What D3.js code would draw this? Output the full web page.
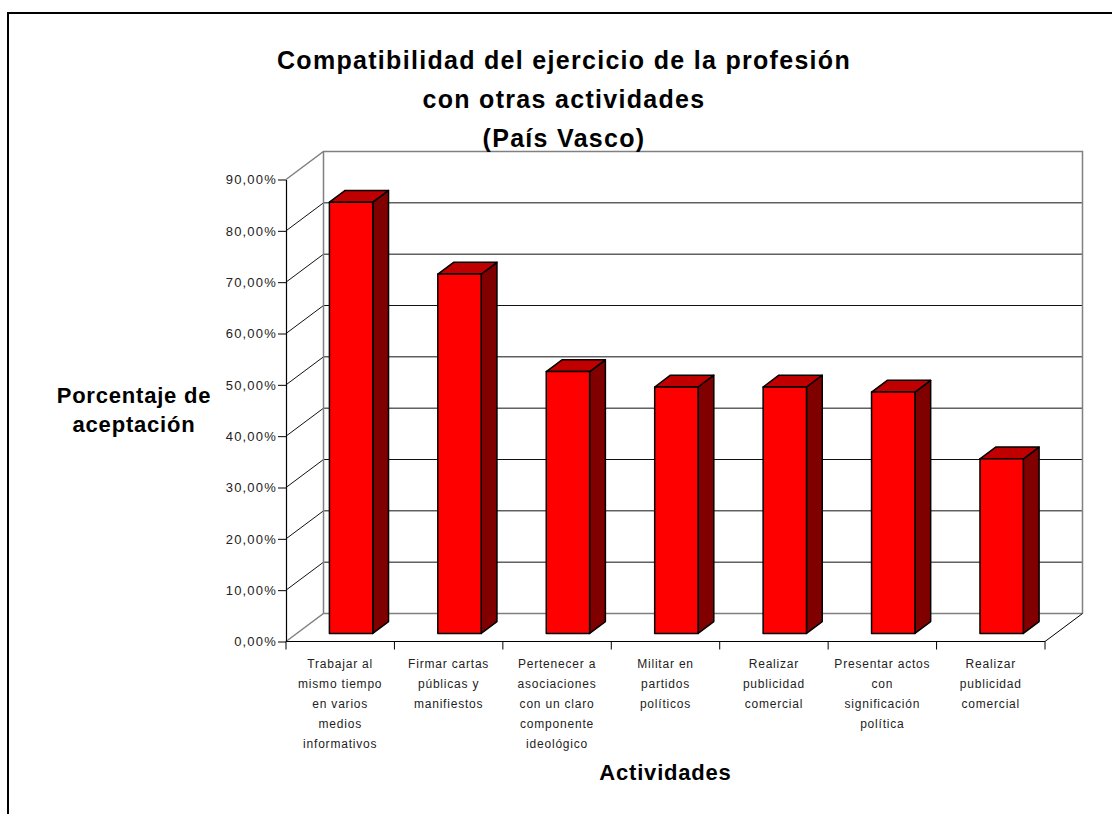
<!DOCTYPE html>
<html>
<head>
<meta charset="utf-8">
<script src="https://cdn.jsdelivr.net/npm/d3@7"></script>
<style>
  body { margin: 0; background: #fff; }
  svg { display: block; font-family: Arial, "Liberation Sans", sans-serif; }
</style>
</head>
<body>
<svg width="1112" height="814"></svg>
<script>
const titleLines = ["Compatibilidad del ejercicio de la profesión", "con otras actividades", "(País Vasco)"];
const yTitleLines = ["Porcentaje de", "aceptación"];
const xTitle = "Actividades";

const categoryLines = [
  ["Trabajar al", "mismo tiempo", "en varios", "medios", "informativos"],
  ["Firmar cartas", "públicas y", "manifiestos"],
  ["Pertenecer a", "asociaciones", "con un claro", "componente", "ideológico"],
  ["Militar en", "partidos", "políticos"],
  ["Realizar", "publicidad", "comercial"],
  ["Presentar actos", "con", "significación", "política"],
  ["Realizar", "publicidad", "comercial"]
];
const values = [0.84, 0.70, 0.51, 0.48, 0.48, 0.47, 0.34];
const yTicks = [0, 0.1, 0.2, 0.3, 0.4, 0.5, 0.6, 0.7, 0.8, 0.9];

const svg = d3.select("svg");
const width = +svg.attr("width");
const height = +svg.attr("height");

// plot box (front plane) and 3d depth offset
const plot = { left: 286, right: 1045, top: 179.5, bottom: 641.5 };
const DX = 37.5, DY = 28;
const barFront = 0.29, barBack = 0.71;

const es = d3.formatLocale({ decimal: ",", thousands: ".", grouping: [3], currency: ["", " €"] });
const pct = es.format(".2%");

const x = d3.scaleBand()
  .domain(d3.range(values.length))
  .range([plot.left, plot.right]);

const y = d3.scaleLinear()
  .domain([0, 0.9])
  .range([plot.bottom, plot.top]);

// project a front-plane point back by depth d (0..1)
const P = (px, py, d) => [px + d * DX, py - d * DY];
const line = d3.line();

// outer chart border
svg.append("rect")
  .attr("x", 8).attr("y", 13)
  .attr("width", width + 20).attr("height", height + 20)
  .attr("fill", "none")
  .attr("stroke", "#000")
  .attr("stroke-width", 2);

// walls
const walls = svg.append("g");
const top90 = y(0.9), base0 = y(0);

// gridlines: side wall diagonals + back wall horizontals
yTicks.slice(1, -1).forEach(t => {
  walls.append("path")
    .attr("d", line([P(plot.left, y(t), 0), P(plot.left, y(t), 1), P(plot.right, y(t), 1)]))
    .attr("fill", "none")
    .attr("stroke", "#111")
    .attr("stroke-width", 1);
});

// back wall + side wall outline (grey)
walls.append("path")
  .attr("d", line([P(plot.left, top90, 0), P(plot.left, top90, 1), P(plot.right, top90, 1), P(plot.right, base0, 1)]))
  .attr("fill", "none").attr("stroke", "#808080").attr("stroke-width", 1.5);
walls.append("path")
  .attr("d", line([P(plot.left, top90, 1), P(plot.left, base0, 1)]))
  .attr("fill", "none").attr("stroke", "#808080").attr("stroke-width", 1.5);
walls.append("path")
  .attr("d", line([P(plot.left, base0, 0), P(plot.left, base0, 1), P(plot.right, base0, 1)]))
  .attr("fill", "none").attr("stroke", "#808080").attr("stroke-width", 1.5);
// floor right edge
walls.append("path")
  .attr("d", line([P(plot.right, base0, 0), P(plot.right, base0, 1)]))
  .attr("fill", "none").attr("stroke", "#000").attr("stroke-width", 1);

// bars
const bars = svg.append("g")
  .attr("stroke", "#000")
  .attr("stroke-width", 1.5)
  .attr("stroke-linejoin", "round");

values.forEach((v, i) => {
  const x0 = x(i) + x.bandwidth() * 0.3;
  const x1 = x(i) + x.bandwidth() * 0.7;
  const yt = y(v), yb = y(0);

  // side face
  bars.append("path")
    .attr("d", line([P(x1, yt, barFront), P(x1, yt, barBack), P(x1, yb, barBack), P(x1, yb, barFront)]) + "Z")
    .attr("fill", "#800000");
  // top face
  bars.append("path")
    .attr("d", line([P(x0, yt, barFront), P(x1, yt, barFront), P(x1, yt, barBack), P(x0, yt, barBack)]) + "Z")
    .attr("fill", "#c00000");
  // front face
  bars.append("path")
    .attr("d", line([P(x0, yt, barFront), P(x1, yt, barFront), P(x1, yb, barFront), P(x0, yb, barFront)]) + "Z")
    .attr("fill", "#ff0000");
});

// y axis
const yAxis = svg.append("g")
  .attr("transform", `translate(${plot.left},0)`)
  .call(d3.axisLeft(y).tickValues(yTicks).tickFormat(pct).tickSize(8).tickSizeOuter(0));
yAxis.select(".domain").attr("stroke", "#000").attr("stroke-width", 1.2);
yAxis.selectAll(".tick line").attr("stroke", "#000");
yAxis.selectAll(".tick text")
  .attr("x", -9)
  .attr("fill", "#222")
  .style("font-family", "Arial, 'Liberation Sans', sans-serif")
  .style("font-size", "13px")
  .style("letter-spacing", "1.2px");

// x axis
const xAxis = svg.append("g");
xAxis.append("line")
  .attr("x1", plot.left).attr("x2", plot.right)
  .attr("y1", base0).attr("y2", base0)
  .attr("stroke", "#000").attr("stroke-width", 1.2);
xAxis.selectAll(".xtick")
  .data(d3.range(values.length + 1))
  .enter().append("line")
  .attr("x1", i => plot.left + i * x.step())
  .attr("x2", i => plot.left + i * x.step())
  .attr("y1", base0).attr("y2", base0 + 8)
  .attr("stroke", "#000");

const catText = xAxis.selectAll(".cat")
  .data(categoryLines)
  .enter().append("text")
  .attr("text-anchor", "middle")
  .attr("fill", "#222")
  .style("font-size", "12px")
  .style("letter-spacing", "0.8px");
catText.each(function(lines, i) {
  const t = d3.select(this);
  lines.forEach((l, k) => {
    t.append("tspan")
      .attr("x", x(i) + x.bandwidth() / 2)
      .attr("y", 668 + k * 20)
      .text(l);
  });
});

// titles
svg.append("text")
  .attr("text-anchor", "middle")
  .style("font-size", "25px")
  .style("font-weight", "bold")
  .style("letter-spacing", "1.3px")
  .selectAll("tspan")
  .data(titleLines)
  .enter().append("tspan")
  .attr("x", 564)
  .attr("y", (d, i) => 69 + i * 38.8)
  .text(d => d);

svg.append("text")
  .attr("text-anchor", "middle")
  .style("font-size", "22px")
  .style("font-weight", "bold")
  .style("letter-spacing", "0.8px")
  .selectAll("tspan")
  .data(yTitleLines)
  .enter().append("tspan")
  .attr("x", 134)
  .attr("y", (d, i) => 403 + i * 29)
  .text(d => d);

svg.append("text")
  .attr("x", (plot.left + plot.right) / 2)
  .attr("y", 780)
  .attr("text-anchor", "middle")
  .style("font-size", "22px")
  .style("font-weight", "bold")
  .style("letter-spacing", "0.8px")
  .text(xTitle);
</script>
</body>
</html>
